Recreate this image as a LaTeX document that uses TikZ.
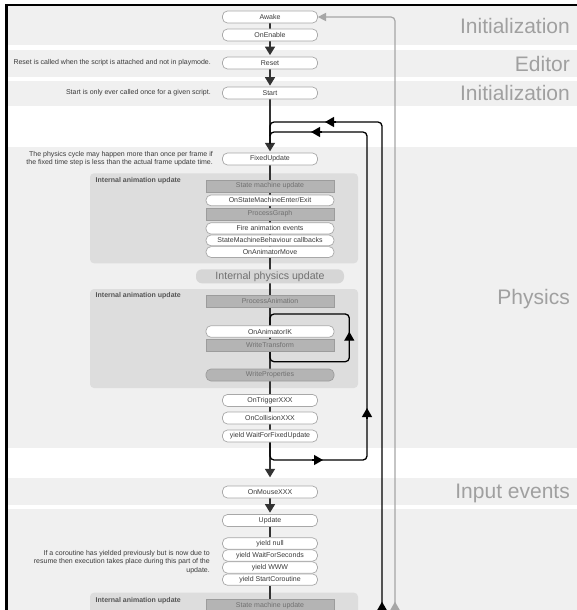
\documentclass[tikz,border=0pt]{standalone}
\usepackage{fontspec}
\setmainfont{Liberation Sans}
\usetikzlibrary{arrows.meta}
\pgfdeclarelayer{back}
\pgfdeclarelayer{lines}
\pgfsetlayers{back,lines,main}
\definecolor{bandc}{HTML}{F0F0F0}
\definecolor{animc}{HTML}{DDDDDD}
\definecolor{grayfill}{HTML}{B4B4B4}
\definecolor{grayedge}{HTML}{9C9C9C}
\definecolor{graytext}{HTML}{707070}
\definecolor{boxedge}{HTML}{A8A8A8}
\definecolor{txt}{HTML}{3A3A3A}
\definecolor{labelc}{HTML}{A0A0A0}
\definecolor{greyarrow}{HTML}{A6A6A6}
\definecolor{physfill}{HTML}{D6D6D6}
\definecolor{animlab}{HTML}{555555}
\tikzset{
  wbox/.style={draw=boxedge, line width=0.7pt, fill=white, rounded corners=5pt,
    minimum width=95pt, minimum height=12pt, inner sep=0pt,
    font=\fontsize{7}{8}\selectfont, text=txt},
  abox/.style={wbox, minimum width=128pt, minimum height=10.8pt},
  gbox/.style={draw=grayedge, line width=0.7pt, fill=grayfill, minimum width=128pt,
    minimum height=12pt, inner sep=0pt, font=\fontsize{7}{8}\selectfont, text=graytext},
  pbox/.style={fill=physfill, rounded corners=6pt, minimum width=148pt, minimum height=14pt,
    inner sep=0pt, font=\fontsize{10.6}{12}\selectfont, text=graytext},
  note/.style={font=\fontsize{7}{8.3}\selectfont, text=txt, align=right, inner sep=0pt, anchor=east},
  sectionlab/.style={font=\fontsize{21}{24}\selectfont, text=labelc, anchor=base east, inner sep=0pt},
  animlabel/.style={font=\bfseries\fontsize{7}{8}\selectfont, text=animlab, anchor=west, inner sep=0pt},
  flow/.style={line width=1.4pt, draw=black!80},
  loopline/.style={line width=1.3pt, draw=black, rounded corners=4pt},
  tipb/.style={-{Triangle[width=10pt,length=8.5pt]}},
  midtip/.style={line width=1.3pt, -{Triangle[width=10pt,length=9pt]}},
  greyline/.style={line width=1.2pt, draw=greyarrow, rounded corners=4pt},
}
\begin{document}
\begin{tikzpicture}[x=1pt,y=-1pt]
\useasboundingbox (0,0) rectangle (577,610);

% ---------- nodes ----------
\node[wbox] (awake) at (270,17) {Awake};
\node[wbox] (onenable) at (270,35) {OnEnable};
\node[wbox] (reset) at (270,63) {Reset};
\node[wbox] (start) at (270,93) {Start};
\node[wbox] (fixed) at (270,159) {FixedUpdate};

\node[gbox] (smu1) at (270,186) {State machine update};
\node[abox] (smee) at (270,200.4) {OnStateMachineEnter/Exit};
\node[gbox] (pg) at (270,214) {ProcessGraph};
\node[abox, minimum height=11.3pt] (fae) at (270,228.4) {Fire animation events};
\node[abox] (smbc) at (270,240.4) {StateMachineBehaviour callbacks};
\node[abox] (oam) at (270,252) {OnAnimatorMove};

\node[pbox] (ipu) at (270,276.3) {Internal physics update};

\node[gbox] (pa) at (270,301.4) {ProcessAnimation};
\node[abox, minimum height=11.6pt] (oaik) at (270,331.5) {OnAnimatorIK};
\node[gbox] (wt) at (270,345.4) {WriteTransform};
\node[gbox, rounded corners=5pt] (wp) at (270,375) {WriteProperties};

\node[wbox] (otx) at (270,400.4) {OnTriggerXXX};
\node[wbox] (ocx) at (270,418) {OnCollisionXXX};
\node[wbox] (ywffu) at (270,436) {yield WaitForFixedUpdate};

\node[wbox] (omx) at (270,492) {OnMouseXXX};
\node[wbox] (upd) at (270,520.5) {Update};
\node[wbox, minimum height=11.4pt] (ynull) at (270,543.5) {yield null};
\node[wbox, minimum height=11.4pt] (ywfs) at (270,555.5) {yield WaitForSeconds};
\node[wbox, minimum height=11.4pt] (ywww) at (270,567.5) {yield WWW};
\node[wbox, minimum height=11.4pt] (ysc) at (270,579.6) {yield StartCoroutine};
\node[gbox] (smu2) at (270,605.5) {State machine update};

% notes
\node[note] (n1) at (211,63) {Reset is called when the script is attached and not in playmode.};
\node[note] (n2) at (211,93) {Start is only ever called once for a given script.};
\node[note] (n3) at (213,159) {The physics cycle may happen more than once per frame if\\the fixed time step is less than the actual frame update time.};
\node[note] (n4) at (210,562) {If a coroutine has yielded previously but is now due to\\resume then execution takes place during this part of the\\update.};

% anim labels
\node[animlabel] (al1) at (95.5,180.7) {Internal animation update};
\node[animlabel] (al2) at (95.5,296) {Internal animation update};
\node[animlabel] (al3) at (95.5,600.3) {Internal animation update};

% section labels
\node[sectionlab] (s1) at (570,33.5) {Initialization};
\node[sectionlab] (s2) at (570,71) {Editor};
\node[sectionlab] (s3) at (570,100.5) {Initialization};
\node[sectionlab] (s4) at (570,304.5) {Physics};
\node[sectionlab] (s5) at (570,498.5) {Input events};

% ---------- background ----------
\begin{pgfonlayer}{back}
\fill[white] (0,0) rectangle (577,610);
\fill[bandc] (7,6) rectangle (577,45.5);
\fill[bandc] (7,50) rectangle (577,76.5);
\fill[bandc] (7,80.5) rectangle (577,105.5);
\fill[bandc] (7,147) rectangle (577,448);
\fill[bandc] (7,478) rectangle (577,504.5);
\fill[bandc] (7,508.5) rectangle (577,615);
\fill[animc, rounded corners=4pt] (90,173.3) rectangle (358,263.3);
\fill[animc, rounded corners=4pt] (90,289) rectangle (358,388);
\fill[animc, rounded corners=4pt] (90,592.7) rectangle (358,630);
\draw[line width=2.4pt] (6.3,615) -- (6.3,4.8) -- (580,4.8);
\end{pgfonlayer}

% ---------- connectors ----------
\begin{pgfonlayer}{lines}
\coordinate (outbot) at (382,640);
\coordinate (outtop) at (382,122);
\coordinate (outjoin) at (270,122);
\coordinate (inbotj) at (270,460);
\coordinate (inbotr) at (367,460);
\coordinate (intopr) at (367,132);
\coordinate (intopj) at (270,132);
\coordinate (lpb) at (270,361.7);
\coordinate (lpbr) at (349.3,361.7);
\coordinate (lptr) at (349.3,314);
\coordinate (lpt) at (270,314);
\coordinate (greybot) at (395,640);
\coordinate (greytop) at (395,17);

\draw[flow] (awake) -- (onenable);
\draw[flow, tipb, shorten >=1.5pt] (onenable) -- (reset);
\draw[flow, tipb, shorten >=1pt] (reset) -- (start);
\draw[flow, tipb, shorten >=1.3pt] (start) -- (fixed);
\draw[flow] (fixed.south) -- (ywffu.north);
\draw[flow, tipb, shorten >=8.3pt] (ywffu) -- (omx);
\draw[flow, tipb, shorten >=1.5pt] (omx) -- (upd);
\draw[flow] (upd) -- (ynull);
\draw[flow] (ysc) -- (smu2);

% outer loop
\draw[loopline] (outbot) -- (outtop) -- (outjoin) -- ([yshift=-14pt]outjoin);
% inner loop
\draw[loopline] (ywffu.south) -- (inbotj) -- (inbotr) -- (intopr) -- (intopj) -- ([yshift=-12pt]intopj);
% animator IK loop
\draw[loopline] (wt.south) -- (lpb) -- (lpbr) -- (lptr) -- (lpt) -- (oaik.north);
% grey loop back to Awake
\draw[greyline, -{Triangle[width=8.3pt,length=8.3pt]}] (greybot) -- (greytop) -- (awake.east);

% mid arrowheads
\draw[midtip] (336,122) -- (325,122);
\draw[midtip] (322,132) -- (311,132);
\draw[midtip] (312,460) -- (323,460);
\draw[midtip] (367,419) -- (367,408);
\draw[midtip] (349.3,343) -- (349.3,331.7);
\draw[midtip] (382,613) -- (382,601.7);
\draw[line width=1.2pt, draw=greyarrow, -{Triangle[width=10pt,length=9pt]}, greyarrow] (395,613) -- (395,601.7);
\end{pgfonlayer}
\end{tikzpicture}
\end{document}
